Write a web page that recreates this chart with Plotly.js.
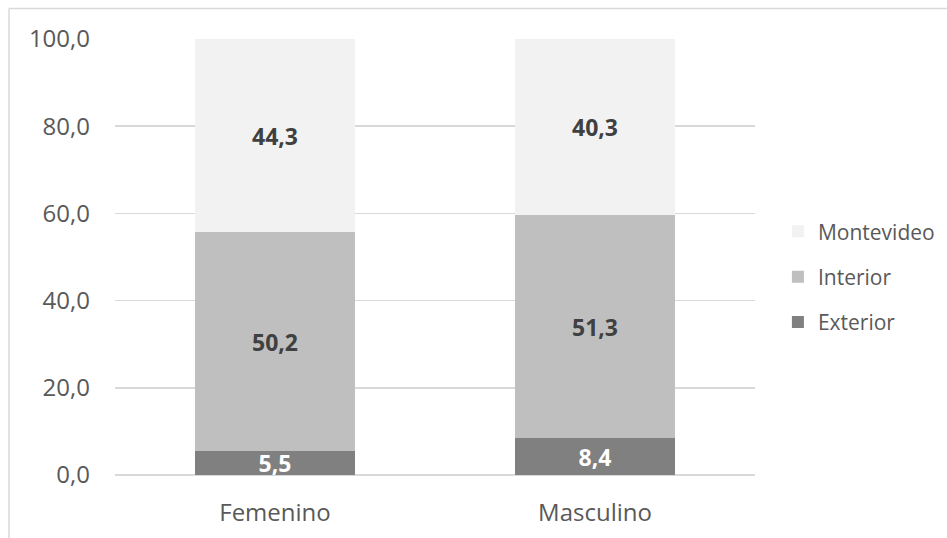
<!DOCTYPE html>
<html>
<head>
<meta charset="utf-8">
<script src="https://cdn.plot.ly/plotly-3.0.1.min.js"></script>
<style>
  html, body { margin: 0; padding: 0; background: #ffffff; overflow: hidden; }
  #chart { width: 947px; height: 538px; overflow: hidden; }
</style>
</head>
<body>
<div id="chart"></div>
<script>
// ---- data ----
const categories = ['Femenino', 'Masculino'];
const exterior = [5.5, 8.4];
const interior = [50.2, 51.3];
const montevideo = [44.3, 40.3];
const seriesNames = ['Exterior', 'Interior', 'Montevideo'];
const legendRanks = [3, 2, 1];
const yTickValues = [0, 20, 40, 60, 80, 100];
const titleText = 'Sexo y zona de procedencia según región';

const FONT = '"Open Sans", "Segoe UI", "DejaVu Sans", sans-serif';
const seriesValues = [exterior, interior, montevideo];
const seriesColors = ['#808080', '#bfbfbf', '#f2f2f2'];
const labelColors = ['#ffffff', '#404040', '#404040'];

const traces = seriesNames.map((name, i) => ({
  type: 'bar',
  name: name,
  x: categories,
  y: seriesValues[i],
  marker: { color: seriesColors[i], line: { width: 0 } },
  texttemplate: '%{y:.1f}',
  textposition: 'inside',
  insidetextanchor: 'middle',
  textangle: 0,
  constraintext: 'none',
  textfont: { family: FONT, size: 23, color: labelColors[i], weight: 'bold' },
  legendgroup: name,
  legendrank: legendRanks[i],
  hoverinfo: 'skip'
}));

const layout = {
  width: 947,
  height: 538,
  paper_bgcolor: '#ffffff',
  plot_bgcolor: '#ffffff',
  separators: ',.',
  barmode: 'stack',
  bargap: 0.5,
  margin: { l: 115, r: 192, t: 39, b: 63, pad: 0, autoexpand: false },
  font: { family: FONT, color: '#595959' },
  uniformtext: { mode: 'show', minsize: 23 },
  showlegend: true,
  legend: {
    x: 1.0358, xanchor: 'left',
    y: 0.605, yanchor: 'top',
    traceorder: 'grouped',
    tracegroupgap: 15,
    itemwidth: 30,
    font: { family: FONT, size: 21, color: '#595959' },
    bgcolor: 'rgba(0,0,0,0)'
  },
  xaxis: {
    type: 'category',
    range: [-0.5, 1.5],
    showgrid: false,
    zeroline: false,
    showline: false,
    ticks: '',
    ticklabelstandoff: 21,
    tickfont: { family: FONT, size: 24, color: '#595959' },
    fixedrange: true
  },
  yaxis: {
    range: [0, 100],
    tickvals: yTickValues,
    tickformat: '.1f',
    showgrid: true,
    gridcolor: '#d9d9d9',
    gridwidth: 1.5,
    zeroline: true,
    zerolinecolor: '#d9d9d9',
    zerolinewidth: 1.5,
    showline: false,
    ticks: '',
    ticklabelstandoff: 24,
    tickfont: { family: FONT, size: 24, color: '#595959' },
    fixedrange: true
  },
  annotations: [{
    text: titleText,
    xref: 'paper', yref: 'paper',
    x: 0.264, xanchor: 'left',
    y: 1.082, yanchor: 'bottom',
    showarrow: false,
    font: { family: FONT, size: 20, color: '#1f4e79', weight: 'bold' }
  }],
  shapes: [
    { type: 'line', xref: 'paper', yref: 'paper', x0: -0.1656, x1: -0.1656, y0: 1.070, y1: -0.25,
      line: { color: '#d9d9d9', width: 1.5 } },
    { type: 'line', xref: 'paper', yref: 'paper', x0: -0.1656, x1: 1.5, y0: 1.070, y1: 1.070,
      line: { color: '#d9d9d9', width: 1.5 } }
  ]
};

Plotly.newPlot('chart', traces, layout, { displayModeBar: false, staticPlot: true });
</script>
</body>
</html>
